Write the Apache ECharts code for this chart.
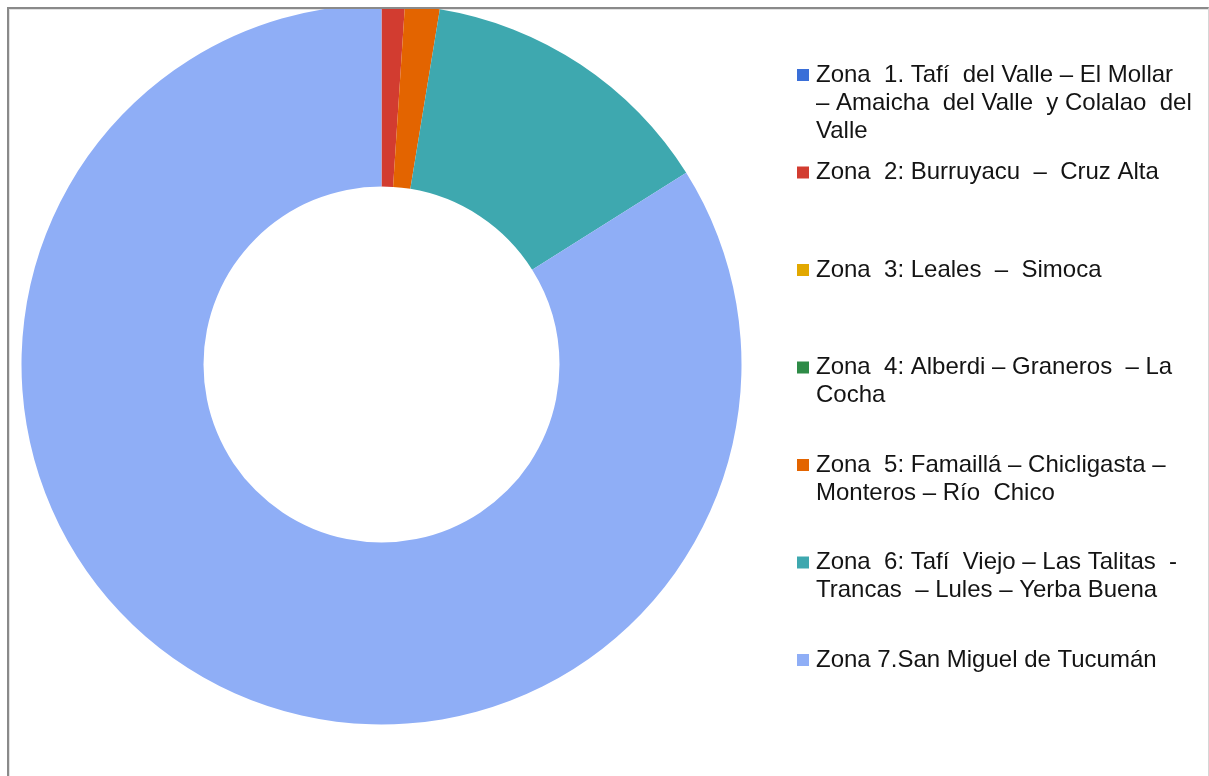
<!DOCTYPE html>
<html>
<head>
<meta charset="utf-8">
<script src="https://cdn.jsdelivr.net/npm/echarts@6/dist/echarts.min.js"></script>
<style>
  html, body { margin: 0; padding: 0; background: #ffffff; }
  #frame {
    position: absolute; left: 7px; top: 7px;
    width: 1199px; height: 775px;
    border-left: 2px solid #8a8a8a; border-top: 2px solid #8a8a8a; border-right: 1px solid #d6d6d6;
    box-shadow: inset 1px 1px 0 #e2e2e2;
    overflow: hidden;
  }
  #chart { position: absolute; left: 0; top: 0; width: 1199px; height: 767px; }
</style>
</head>
<body>
<div id="frame"><div id="chart"></div></div>
<script>
// ---- data ----
const zoneNames = [
  'Zona 1. Tafí del Valle – El Mollar – Amaicha del Valle y Colalao del Valle',
  'Zona 2: Burruyacu – Cruz Alta',
  'Zona 3: Leales – Simoca',
  'Zona 4: Alberdi – Graneros – La Cocha',
  'Zona 5: Famaillá – Chicligasta – Monteros – Río Chico',
  'Zona 6: Tafí Viejo – Las Talitas - Trancas – Lules – Yerba Buena',
  'Zona 7.San Miguel de Tucumán'
];
// legend text as wrapped in the reference
const legendLines = [
  ['Zona  1. Tafí  del Valle – El Mollar', '– Amaicha  del Valle  y Colalao  del', 'Valle'],
  ['Zona  2: Burruyacu  –  Cruz Alta'],
  ['Zona  3: Leales  –  Simoca'],
  ['Zona  4: Alberdi – Graneros  – La', 'Cocha'],
  ['Zona  5: Famaillá – Chicligasta –', 'Monteros – Río  Chico'],
  ['Zona  6: Tafí  Viejo – Las Talitas  -', 'Trancas  – Lules – Yerba Buena'],
  ['Zona 7.San Miguel de Tucumán']
];
const zoneValues = [0, 2, 0, 0, 3, 26, 162];
const zoneColors = ['#3a6fd8', '#d23c30', '#e2a800', '#2e8b47', '#e36400', '#3ea8af', '#8faef6'];

// ---- build ----
const rich = {
  sp: { width: 7, height: 12 },
  ind: { width: 19, height: 12 }
};
zoneColors.forEach((c, i) => { rich['c' + i] = { width: 12, height: 12, backgroundColor: c }; });

const chart = echarts.init(document.getElementById('chart'), null, { renderer: 'canvas' });
chart.setOption({
  animation: false,
  color: zoneColors,
  legend: {
    orient: 'vertical',
    left: 783,
    top: 52,
    padding: 0,
    itemGap: 13.5,
    itemWidth: 0,
    itemHeight: 0,
    icon: 'rect',
    selectedMode: false,
    data: zoneNames,
    textStyle: {
      fontFamily: '"Liberation Sans", Arial, sans-serif',
      fontSize: 24,
      lineHeight: 28,
      color: '#141414',
      rich: rich
    },
    formatter: function (name) {
      const i = zoneNames.indexOf(name);
      const lines = legendLines[i];
      let s = '{c' + i + '|}{sp|}' + lines[0];
      for (let k = 1; k < 3; k++) {
        s += '\n' + (k < lines.length ? '{ind|}' + lines[k] : ' ');
      }
      return s;
    }
  },
  series: [{
    type: 'pie',
    center: [372.5, 355.5],
    radius: [178, 360],
    startAngle: 90,
    clockwise: true,
    avoidLabelOverlap: false,
    label: { show: false },
    labelLine: { show: false },
    emphasis: { disabled: true },
    itemStyle: { borderWidth: 0 },
    data: zoneNames.map((n, i) => ({ name: n, value: zoneValues[i] }))
  }]
});
</script>
</body>
</html>
